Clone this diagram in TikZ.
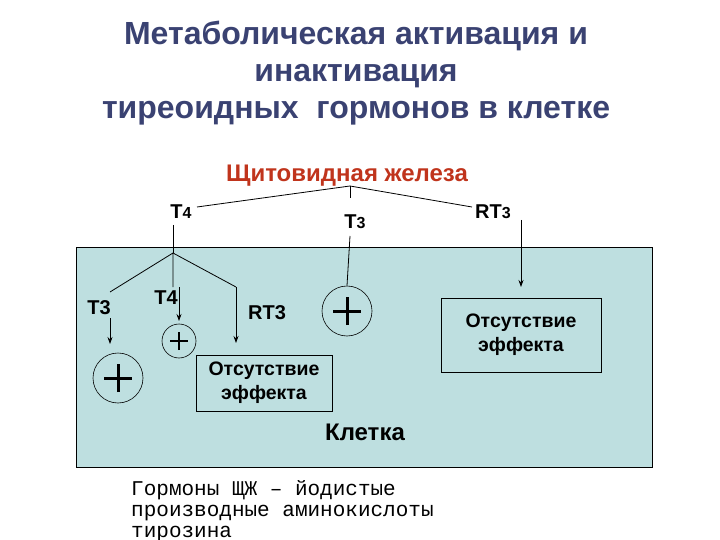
\documentclass[tikz,border=0pt]{standalone}
\usepackage{fontspec}
\usetikzlibrary{arrows.meta}
\setmainfont{Liberation Sans}
\newfontfamily\monof{Liberation Mono}
\begin{document}
\begin{tikzpicture}[x=1pt,y=-1pt,
  lbl/.style={font=\fontsize{20}{22}\selectfont\bfseries, inner sep=1pt},
  tlbl/.style={font=\fontsize{20}{22}\selectfont\bfseries, inner sep=1pt},
  ln/.style={line width=0.8pt},
  arr/.style={line width=0.8pt,-{Stealth[length=7pt,width=5pt]}},
  plus/.style={circle,draw,line width=0.6pt,inner sep=0pt},
  pl/.style={line width=3pt},
  effbox/.style={draw,line width=0.6pt,align=center,font=\fontsize{19.5}{24}\selectfont\bfseries}]
\useasboundingbox (0,0) rectangle (720,540);
\definecolor{titc}{HTML}{3A4272}
\definecolor{redc}{HTML}{C0341C}
\definecolor{cellc}{HTML}{BEDFE0}
\node[font=\fontsize{32}{37}\selectfont\bfseries, text=titc, align=center] (title) at (356,73)
 {Метаболическая активация и\\инактивация\\тиреоидных\ \ гормонов в клетке};
\node[font=\fontsize{24}{26}\selectfont\bfseries, text=redc] (gland) at (347,176) {Щитовидная железа};
\draw[line width=0.8pt, fill=cellc] (76,247) rectangle (652,467);
\coordinate (apex) at (350,186);
\node[tlbl] (t4) at (181,212) {T{\fontsize{16}{16}\selectfont 4}};
\node[tlbl] (t3) at (355,222) {T{\fontsize{16}{16}\selectfont 3}};
\node[tlbl] (rt3) at (493,212) {RT{\fontsize{16}{16}\selectfont 3}};
\coordinate (t4e) at (197,207);
\coordinate (rt3e) at (472,207);
\draw[ln] (t4e) -- (apex) -- (rt3e);
\draw[ln] (apex) -- (350,198);
\coordinate (br) at (173,253);
\draw[ln] (173,225) -- (br);
\coordinate (lt) at (110,292);
\coordinate (rtc) at (236,287);
\draw[ln] (lt) -- (br) -- (173,287);
\draw[ln] (br) -- (rtc);
\node[lbl] (it3) at (99,308) {T3};
\node[lbl] (it4) at (166,298) {T4};
\node[lbl] (irt3) at (267,313) {RT3};
\node[plus, minimum size=50pt] (p1) at (118,378) {};
\node[plus, minimum size=34pt] (p2) at (179,341) {};
\node[plus, minimum size=50pt] (p3) at (347,311) {};
\draw[pl] ([xshift=-14pt]p1.center) -- ([xshift=14pt]p1.center) ([yshift=-14pt]p1.center) -- ([yshift=14pt]p1.center);
\draw[pl] ([xshift=-14pt]p3.center) -- ([xshift=14pt]p3.center) ([yshift=-14pt]p3.center) -- ([yshift=14pt]p3.center);
\draw[pl,line width=2.4pt] ([xshift=-9pt]p2.center) -- ([xshift=9pt]p2.center) ([yshift=-9pt]p2.center) -- ([yshift=9pt]p2.center);
\node[effbox, minimum width=136pt, minimum height=56pt] (e1) at (264,383) {Отсутствие\\эффекта};
\node[effbox, minimum width=160pt, minimum height=74pt] (e2) at (521,335) {Отсутствие\\эффекта};
\draw[arr] (110,318) -- (110,344);
\draw[arr] (179,287) -- (179,321);
\draw[arr] (rtc) -- (236,343);
\draw[ln] (350,236) -- (p3.north);
\draw[arr] (521,220) -- (521,287);
\node[font=\fontsize{24}{26}\selectfont\bfseries] (cell) at (365,432) {Клетка};
\node[font=\monof\fontsize{21}{21}\selectfont, align=left, anchor=north west, inner sep=0pt] (note) at (131,480)
 {Гормоны ЩЖ – йодистые\\производные аминокислоты\\тирозина};
\end{tikzpicture}
\end{document}
